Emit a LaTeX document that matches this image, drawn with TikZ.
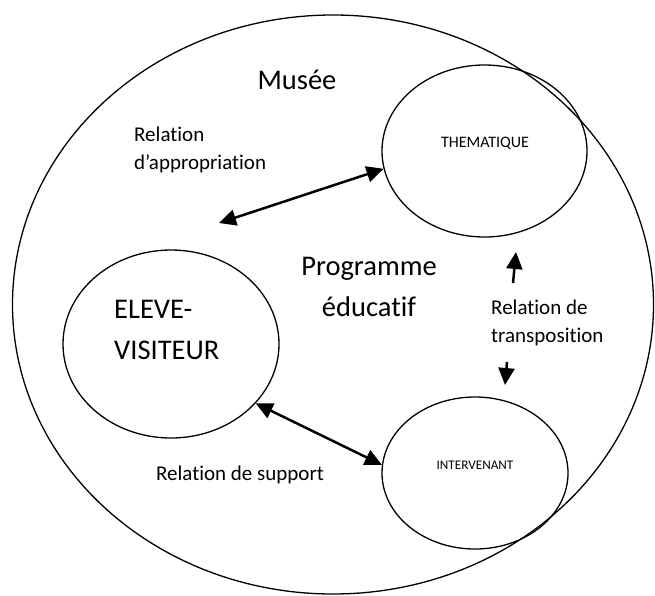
\documentclass[tikz,border=0pt]{standalone}
\usepackage{fontspec}
\setmainfont{Carlito}[Ligatures=NoCommon]
\usetikzlibrary{shapes.geometric, arrows.meta, positioning}

\begin{document}
\begin{tikzpicture}[
			x=1pt, y=-1pt,
			nodes = {
				align = center,
				inner sep = 0pt
			},
			bulle/.style={
				ellipse,
				draw=black,
				line width=1.3pt
			},
			grand/.style={
				font=\fontsize{28.5}{41}\selectfont
			},
			moyen/.style={
				font=\fontsize{21}{28.5}\selectfont
			},
			lines/.style={
				line width=2.5pt,
				>={Triangle[length=17pt,width=16pt]}
			}
		]
			\useasboundingbox (0,0) rectangle (655,595);

			\node[bulle, minimum width=641pt, minimum height=579pt] (musee) at (333,304.5) {};
			\node[bulle, minimum width=205pt, minimum height=172pt] (them) at (484.5,151) {};
			\node[bulle, minimum width=216pt, minimum height=188pt] (eleve) at (171,344) {};
			\node[bulle, minimum width=186pt, minimum height=152pt] (inter) at (475,473) {};

			\node[grand] (titre) at (297,80) {Musée};
			\node[grand] (prog) at (369,287) {Programme\\éducatif};
			\node[grand, align=left, anchor=west] (eleve-txt) at (114,330) {ELEVE-\\VISITEUR};
			\node[font=\fontsize{16}{19}\selectfont] (them-txt) at (485,143) {THEMATIQUE};
			\node[font=\fontsize{13.2}{16}\selectfont] (inter-txt) at (475,465) {INTERVENANT};

			\node[moyen, align=left, anchor=west] (appro) at (134,150) {Relation\\d’appropriation};
			\node[moyen, align=left, anchor=west] (transpo) at (491,323) {Relation de\\transposition};
			\node[moyen] (support) at (240,475) {Relation de support};

			\coordinate (a1) at (219,223);
			\coordinate (t1) at (513,283);
			\coordinate (t2) at (516,252);
			\coordinate (t3) at (507,362);
			\coordinate (t4) at (505,385);

			\draw[lines,<->] (a1) -- (them.190);
			\draw[lines,<->] (eleve.-35) -- (inter.175);

			\draw[lines,->] (t1) -- (t2);
			\draw[lines,->] (t3) -- (t4);

		\end{tikzpicture}
\end{document}
